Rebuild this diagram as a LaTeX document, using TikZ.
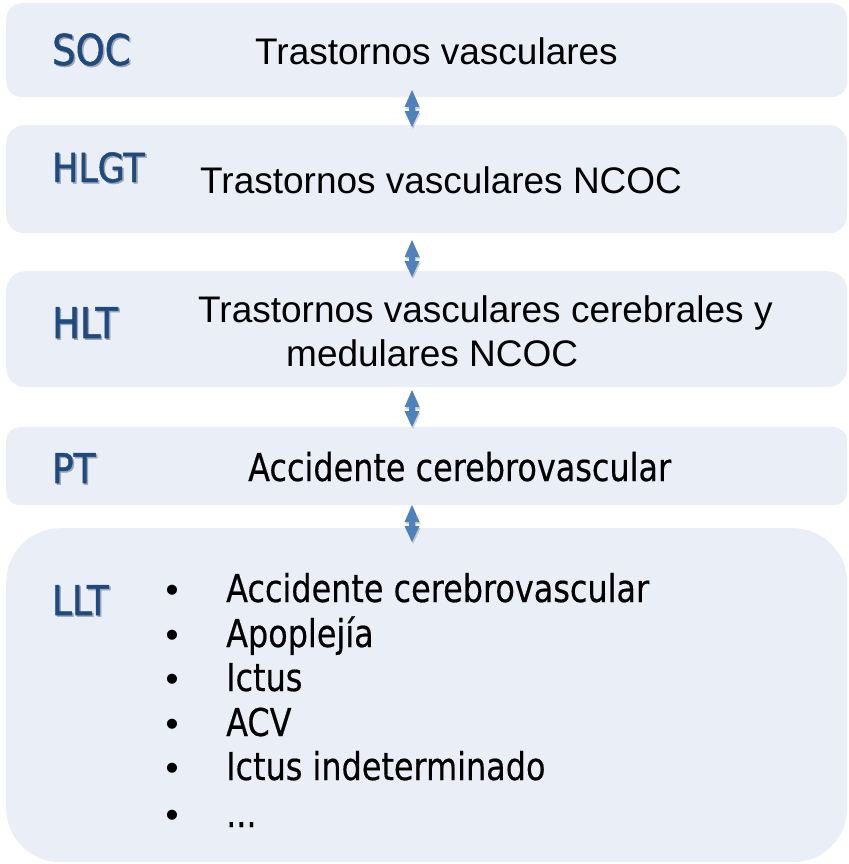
\documentclass[tikz,border=0pt]{standalone}
\usepackage{fontspec}
\setmainfont{Liberation Sans}
\newfontfamily\lblfont[FakeStretch=0.87,FakeBold=1.2]{DejaVu Sans}
\newfontfamily\lstfont[FakeStretch=0.83,FakeBold=0.4]{DejaVu Sans}
\usetikzlibrary{calc}
\definecolor{boxfill}{HTML}{EAEFF7}
\definecolor{lblblue}{HTML}{1F4A80}
\definecolor{lblshadow}{HTML}{9EA6B2}
\definecolor{arrowblue}{HTML}{4F81BD}
\newcommand\shadowedtext[1]{\makebox[0pt][l]{\kern1.5pt\raisebox{-1.5pt}{\textcolor{lblshadow}{#1}}}#1}
\tikzset{
  box/.style={fill=boxfill, draw=none, anchor=north west, inner sep=0, minimum width=841pt},
  lbl/.style={anchor=base west, inner sep=0, text=lblblue},
  maintext/.style={anchor=base west, inner sep=0, font=\fontsize{37}{44}\selectfont},
  listtext/.style={anchor=base west, inner sep=0, font=\lstfont\fontsize{38.4}{46}\selectfont},
  bullet/.style={anchor=base, inner sep=0, font=\fontsize{37}{44}\selectfont},
  arrowbody/.style={fill=arrowblue},
  arrowshadow/.style={fill=black, opacity=0.18}
}
% double-headed block arrow starting at its top apex
\newcommand\dblarrowpath{-- ++(7.5,17) -- ++(-4.5,0) -- ++(0,4) -- ++(4.5,0) -- ++(-7.5,16) -- ++(-7.5,-16) -- ++(4.5,0) -- ++(0,-4) -- ++(-4.5,0) -- cycle}
\begin{document}
\begin{tikzpicture}[x=1pt,y=-1pt]
\useasboundingbox (0,0) rectangle (848,864);
% boxes
\node[box, minimum height=94pt, rounded corners=15.7pt] (b1) at (6,3) {};
\node[box, minimum height=108pt, rounded corners=18pt] (b2) at (6,125) {};
\node[box, minimum height=116pt, rounded corners=19.3pt] (b3) at (6,271) {};
\node[box, minimum height=78pt, rounded corners=13pt] (b4) at (6,427) {};
\node[box, minimum height=334pt, rounded corners=54pt] (b5) at (6,528) {};
% level labels
\node[lbl, font=\lblfont\fontsize{42.5}{50}\selectfont] (l1) at (52,65) {\shadowedtext{SOC}};
\node[lbl, font=\lblfont\fontsize{40}{48}\selectfont] (l2) at (52,182) {\shadowedtext{HLGT}};
\node[lbl, font=\lblfont\fontsize{42.5}{50}\selectfont] (l3) at (52,338) {\shadowedtext{HLT}};
\node[lbl, font=\lblfont\fontsize{41}{49}\selectfont] (l4) at (52,483) {\shadowedtext{PT}};
\node[lbl, font=\lblfont\fontsize{41}{49}\selectfont] (l5) at (52,615) {\shadowedtext{LLT}};
% texts
\node[maintext] (t1) at (255,65) {Trastornos vasculares};
\node[maintext] (t2) at (200,193) {Trastornos vasculares NCOC};
\node[maintext] (t3a) at (198,322) {Trastornos vasculares cerebrales y};
\node[maintext] (t3b) at (286,366) {medulares NCOC};
\node[listtext] (t4) at (248,481) {Accidente cerebrovascular};
% list
\node[bullet] (p1) at (172,602) {•};
\node[bullet] (p2) at (172,647) {•};
\node[bullet] (p3) at (172,691) {•};
\node[bullet] (p4) at (172,736) {•};
\node[bullet] (p5) at (172,780) {•};
\node[bullet] (p6) at (172,827) {•};
\node[listtext] (i1) at (226,602) {Accidente cerebrovascular};
\node[listtext] (i2) at (226,647) {Apoplejía};
\node[listtext] (i3) at (226,691) {Ictus};
\node[listtext] (i4) at (226,736) {ACV};
\node[listtext] (i5) at (226,780) {Ictus indeterminado};
\node[listtext] (i6) at (226,827) {...};
% arrows (top apex coordinates)
\coordinate (a1) at (412,90);
\coordinate (a2) at (412,240);
\coordinate (a3) at (412,390);
\coordinate (a4) at (412,505);
\foreach \a in {a1,a2,a3,a4}{
  \path[arrowshadow] ($(\a)+(1,2)$) \dblarrowpath;
  \path[arrowbody] (\a) \dblarrowpath;
}
\end{tikzpicture}
\end{document}
